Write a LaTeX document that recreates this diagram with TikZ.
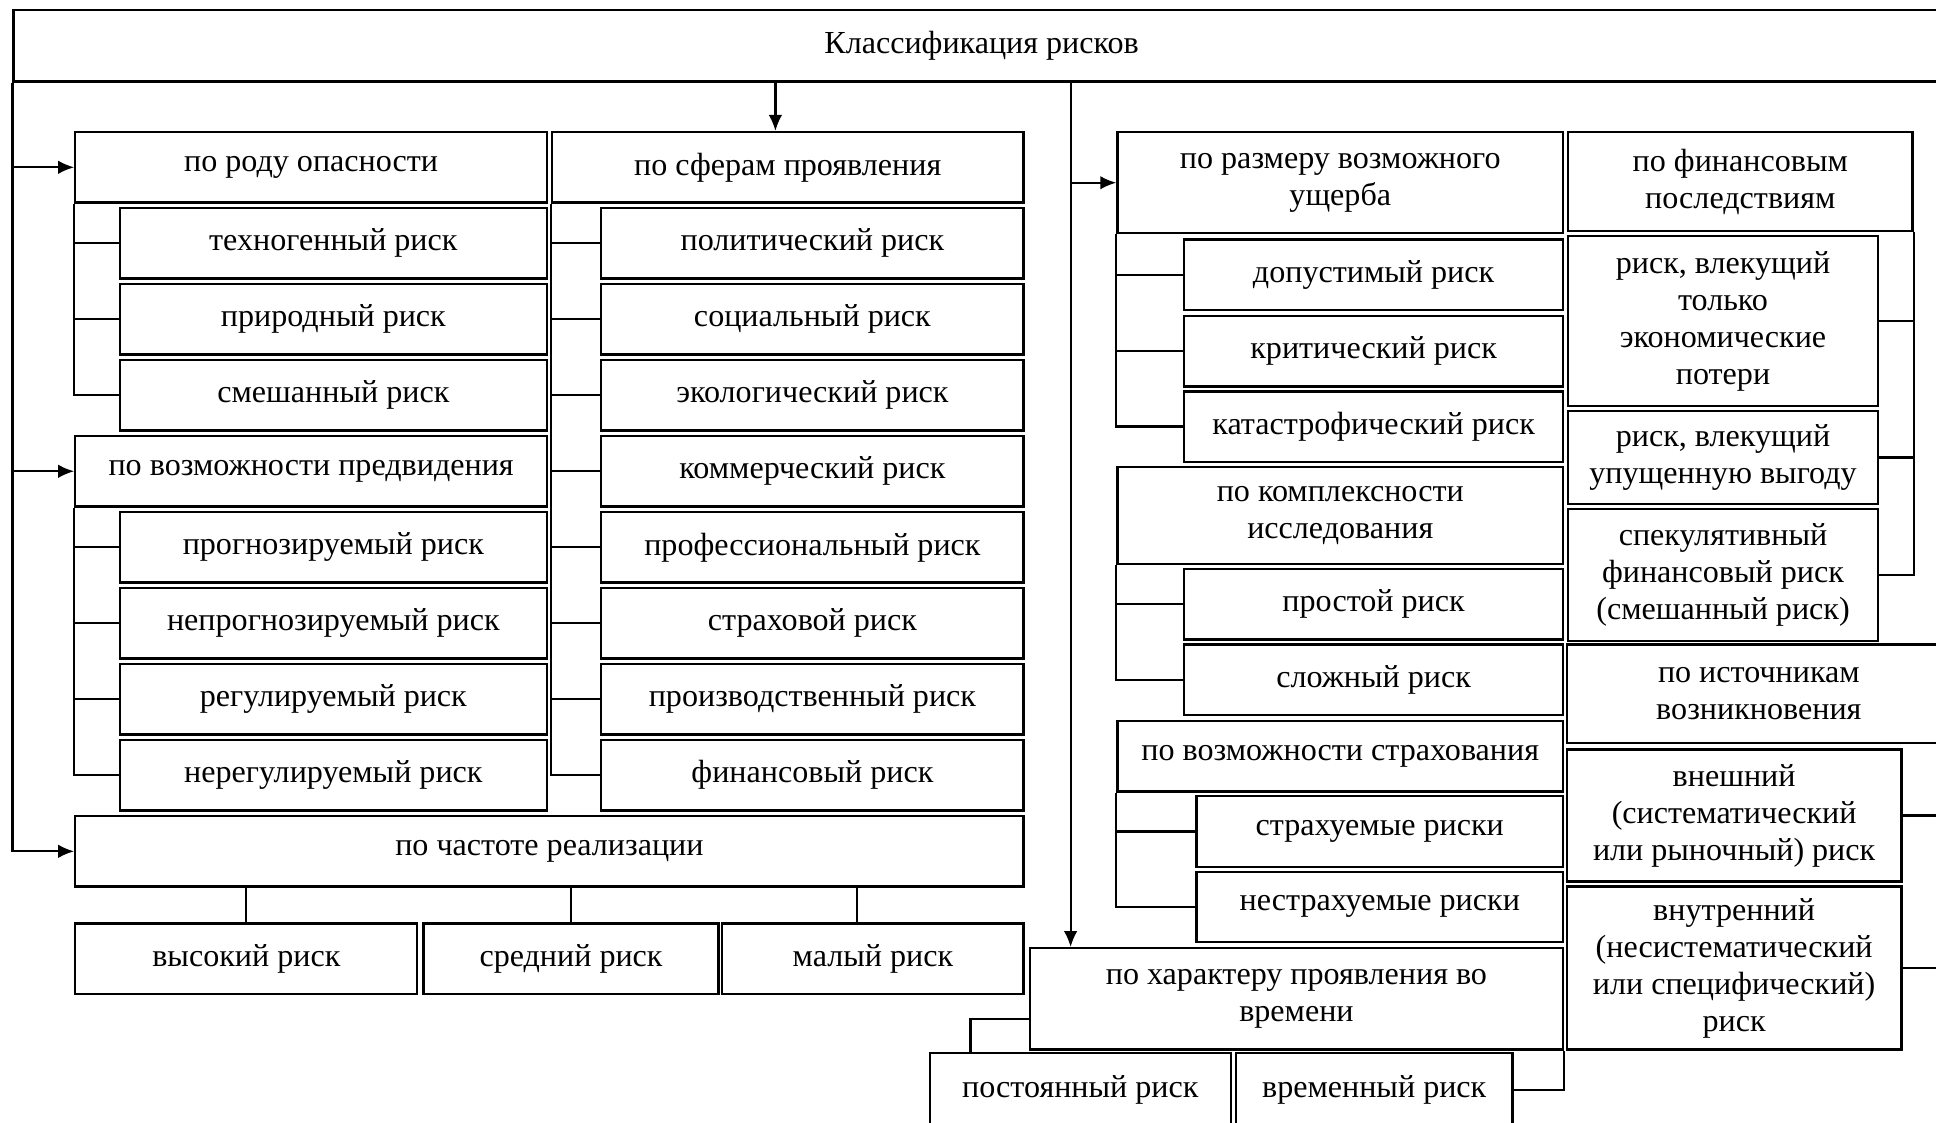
\documentclass[tikz,border=0pt]{standalone}
\usepackage{fontspec}
\setmainfont{Liberation Serif}
\usepackage{tikz}
\usetikzlibrary{shapes,arrows.meta,calc}
\tikzstyle{block} = [draw, rectangle, line width=1.8pt, inner sep=0pt, align=center,
    minimum height=57pt, font=\fontsize{26}{30}\selectfont]
\tikzstyle{conn} = [draw, line width=1.8pt]
\tikzstyle{feed} = [conn, -{Latex[length=13pt,width=11pt]}]

\begin{document}
\begin{tikzpicture}[x=1pt,y=-1pt]
    \useasboundingbox (0,0) rectangle (1568,909);

    % top
    \node [block, minimum width=1568pt, minimum height=58pt] (title) at (795,37) {Классификация рисков};

    % left half
    \node [block, minimum width=382pt] (rod) at (252,135.5) {по роду опасности};
    \node [block, minimum width=346pt] (tehno) at (270,197) {техногенный риск};
    \node [block, minimum width=346pt] (prirod) at (270,258.6) {природный риск};
    \node [block, minimum width=346pt] (smesh) at (270,320.2) {смешанный риск};
    \node [block, minimum width=382pt] (predv) at (252,381.7) {по возможности предвидения};
    \node [block, minimum width=346pt] (prognoz) at (270,443.3) {прогнозируемый риск};
    \node [block, minimum width=346pt] (neprognoz) at (270,504.8) {непрогнозируемый риск};
    \node [block, minimum width=346pt] (regul) at (270,566.4) {регулируемый риск};
    \node [block, minimum width=346pt] (neregul) at (270,627.9) {нерегулируемый риск};

    \node [block, minimum width=382pt] (sfera) at (638,135.5) {по сферам проявления};
    \node [block, minimum width=342pt] (polit) at (658,197) {политический риск};
    \node [block, minimum width=342pt] (social) at (658,258.6) {социальный риск};
    \node [block, minimum width=342pt] (ekolog) at (658,320.2) {экологический риск};
    \node [block, minimum width=342pt] (kommerc) at (658,381.7) {коммерческий риск};
    \node [block, minimum width=342pt] (profes) at (658,443.3) {профессиональный риск};
    \node [block, minimum width=342pt] (strah) at (658,504.8) {страховой риск};
    \node [block, minimum width=342pt] (proizv) at (658,566.4) {производственный риск};
    \node [block, minimum width=342pt] (finans) at (658,627.9) {финансовый риск};

    \node [block, minimum width=768pt] (chastota) at (445,689.5) {по частоте реализации};
    \node [block, minimum width=277pt] (vysok) at (199.5,776.5) {высокий риск};
    \node [block, minimum width=239pt] (sredn) at (462.5,776.5) {средний риск};
    \node [block, minimum width=244pt] (malyj) at (707,776.5) {малый риск};

    % right half
    \node [block, minimum width=361pt, minimum height=82pt] (razmer) at (1085.5,148) {по размеру возможного\\ущерба};
    \node [block, minimum width=307pt] (dopust) at (1112.5,222.5) {допустимый риск};
    \node [block, minimum width=307pt] (kritich) at (1112.5,284.5) {критический риск};
    \node [block, minimum width=307pt] (katastr) at (1112.5,345.5) {катастрофический риск};
    \node [block, minimum width=361pt, minimum height=79pt] (kompleks) at (1085.5,417.5) {по комплексности\\исследования};
    \node [block, minimum width=307pt] (prostoj) at (1112.5,489.5) {простой риск};
    \node [block, minimum width=307pt] (slozhn) at (1112.5,550.5) {сложный риск};
    \node [block, minimum width=361pt] (strahov) at (1085.5,612.5) {по возможности страхования};
    \node [block, minimum width=297pt] (strahuem) at (1117.5,673.5) {страхуемые риски};
    \node [block, minimum width=297pt] (nestrah) at (1117.5,734.5) {нестрахуемые риски};
    \node [block, minimum width=432pt, minimum height=82pt] (harakter) at (1050,809) {по характеру проявления во\\времени};
    \node [block, minimum width=244pt, minimum height=60pt] (postoyan) at (875,883) {постоянный риск};
    \node [block, minimum width=224pt, minimum height=60pt] (vremen) at (1113,883) {временный риск};

    \node [block, minimum width=279pt, minimum height=80pt] (fin) at (1409.5,147) {по финансовым\\последствиям};
    \node [block, minimum width=251pt, minimum height=138pt] (ekon) at (1395.5,260) {риск, влекущий\\только\\экономические\\потери};
    \node [block, minimum width=251pt, minimum height=75pt] (upush) at (1395.5,370.5) {риск, влекущий\\упущенную выгоду};
    \node [block, minimum width=251pt, minimum height=107pt] (spekul) at (1395.5,465.5) {спекулятивный\\финансовый риск\\(смешанный риск)};
    \node [block, minimum width=311pt, minimum height=80pt] (istochn) at (1424.5,562) {по источникам\\возникновения};
    \node [block, minimum width=271pt, minimum height=107pt] (vneshn) at (1404.5,660.5) {внешний\\(систематический\\или рыночный) риск};
    \node [block, minimum width=271pt, minimum height=132pt] (vnutr) at (1404.5,784) {внутренний\\(несистематический\\или специфический)\\риск};

    % arrows from the top box
    \draw [feed] (title.south west) |- (rod.west);
    \draw [feed] (title.south west) |- (predv.west);
    \draw [feed] (title.south west) |- (chastota.west);
    \coordinate (sf) at ([xshift=-10pt]sfera.north);
    \draw [feed] (sf |- title.south) -- (sf);
    \coordinate (hv) at ([xshift=34pt]harakter.north west);
    \draw [feed] (hv |- title.south) -- (hv);
    \draw [feed] (hv |- title.south) |- (razmer.west);

    % left branches
    \draw [conn] (rod.south west) |- (tehno.west);
    \draw [conn] (rod.south west) |- (prirod.west);
    \draw [conn] (rod.south west) |- (smesh.west);
    \draw [conn] (predv.south west) |- (prognoz.west);
    \draw [conn] (predv.south west) |- (neprognoz.west);
    \draw [conn] (predv.south west) |- (regul.west);
    \draw [conn] (predv.south west) |- (neregul.west);
    \draw [conn] (sfera.south west) |- (polit.west);
    \draw [conn] (sfera.south west) |- (social.west);
    \draw [conn] (sfera.south west) |- (ekolog.west);
    \draw [conn] (sfera.south west) |- (kommerc.west);
    \draw [conn] (sfera.south west) |- (profes.west);
    \draw [conn] (sfera.south west) |- (strah.west);
    \draw [conn] (sfera.south west) |- (proizv.west);
    \draw [conn] (sfera.south west) |- (finans.west);
    \draw [conn] (vysok.north) -- (vysok.north |- chastota.south);
    \draw [conn] (sredn.north) -- (sredn.north |- chastota.south);
    \coordinate (ml) at ([xshift=-13pt]malyj.north);
    \draw [conn] (ml) -- (ml |- chastota.south);

    % right branches
    \draw [conn] (razmer.south west) |- (dopust.west);
    \draw [conn] (razmer.south west) |- (kritich.west);
    \draw [conn] (razmer.south west) |- (katastr.west);
    \draw [conn] (kompleks.south west) |- (prostoj.west);
    \draw [conn] (kompleks.south west) |- (slozhn.west);
    \draw [conn] (strahov.south west) |- (strahuem.west);
    \draw [conn] (strahov.south west) |- (nestrah.west);
    \draw [conn] ([yshift=-16pt]harakter.west) -| ([xshift=34pt]postoyan.north west);
    \draw [conn] (vremen.east) -| (harakter.south east);
    \draw [conn] (fin.south east) |- (ekon.east);
    \draw [conn] (fin.south east) |- (upush.east);
    \draw [conn] (fin.south east) |- (spekul.east);
    \draw [conn] (istochn.south east) |- (vneshn.east);
    \draw [conn] (istochn.south east) |- (vnutr.east);
\end{tikzpicture}
\end{document}
